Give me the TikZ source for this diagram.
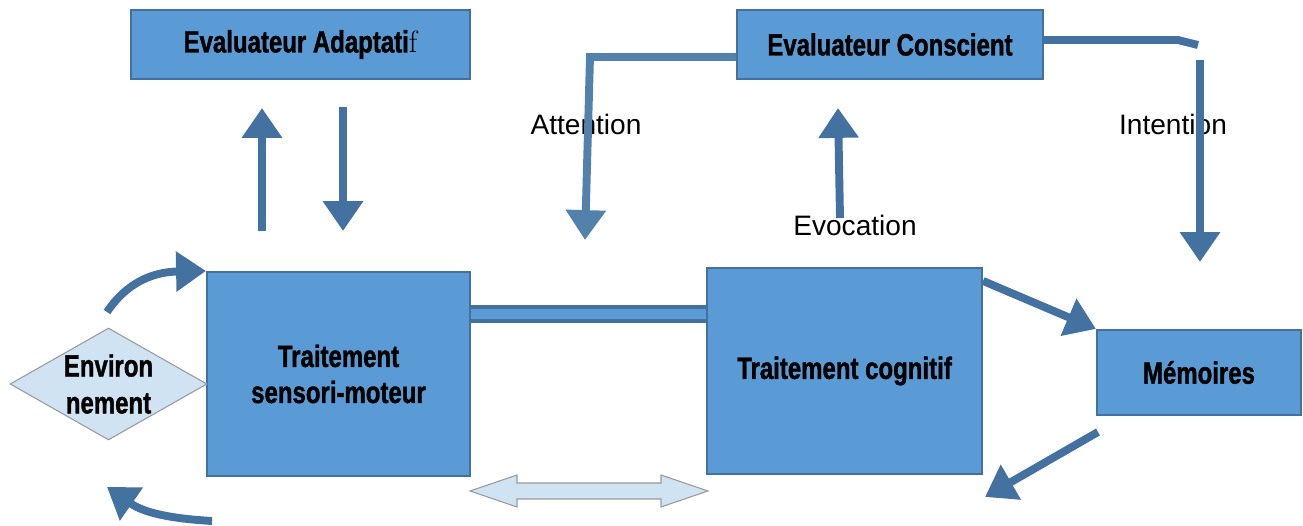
\documentclass[tikz,border=0pt]{standalone}
\usepackage{fontspec}
\setmainfont{Liberation Sans}
\newfontfamily\boxfont[FakeStretch=0.78, FakeBold=1.2]{Liberation Sans}
\newfontfamily\lmfont{Latin Modern Roman}
\usetikzlibrary{shapes.geometric, arrows.meta, positioning, calc}
\definecolor{boxfill}{RGB}{91,155,213}
\definecolor{boxline}{RGB}{65,113,156}
\definecolor{flowblue}{RGB}{68,114,160}
\definecolor{attblue}{RGB}{82,130,172}
\definecolor{envfill}{RGB}{207,227,243}
\tikzset{
x=0.02cm, y=-0.02cm, % one unit = one pixel of the reference
block/.style={draw=boxline, fill=boxfill, line width=1.2pt, align=center,
  inner sep=0pt, font=\boxfont\bfseries\fontsize{17.5}{20.5}\selectfont}, % the blue boxes
flow/.style={draw=flowblue, line width=4.5pt, -{Triangle[width=22pt,length=17pt]}}, % thick arrows
label/.style={font=\fontsize{16}{19}\selectfont},
}
\begin{document}
\begin{tikzpicture}
\useasboundingbox (0,0) rectangle (1303,526);
% boxes
\node[block, minimum width=6.78cm, minimum height=1.38cm] (ea) at (300.5,44.5) {Evaluateur Adaptati{\lmfont\mdseries f}};
\node[block, minimum width=6.12cm, minimum height=1.38cm] (ec) at (890,44.5) {Evaluateur Conscient};
\node[block, minimum width=5.26cm, minimum height=4.08cm] (tsm) at (338.5,374) {Traitement\\sensori-moteur};
\node[block, minimum width=5.5cm, minimum height=4.12cm] (tc) at (844.5,371) {Traitement cognitif};
\node[block, minimum width=4.08cm, minimum height=1.7cm] (mem) at (1199,372.5) {Mémoires};
\node[diamond, shape aspect=1.76, draw=gray!80, fill=envfill, line width=0.6pt, minimum width=3.94cm, minimum height=2.24cm,
  inner sep=0pt, align=center, font=\boxfont\bfseries\fontsize{17.5}{21}\selectfont] (env) at (108.5,384) {Environ\\nement};
% labels
\node[label] (att) at (586,124) {Attention};
\node[label] (int) at (1173,124) {Intention};
\node[label] (evo) at (855,225) {Evocation};
% free ends of the arrows
\coordinate (upA) at (262,231);
\coordinate (upB) at (262,108);
\coordinate (dnA) at (343,107);
\coordinate (dnB) at (343,231);
\coordinate (attK) at (590,57);
\coordinate (attE) at (585,240);
\coordinate (intK) at (1178,40);
\coordinate (intT) at (1198,45);
\coordinate (intS) at (1200,60);
\coordinate (intE) at (1200,262);
\coordinate (evoA) at (840,218);
\coordinate (evoB) at (838,108);
\coordinate (envA) at (107,312);
\coordinate (envB) at (212,521);
\coordinate (envC) at (107,487);
\coordinate (memA) at (1098,432);
\coordinate (memB) at (985,497);
\coordinate (bandY) at (0,314);
% arrows
\draw[flow] (upA) -- (upB);
\draw[flow] (dnA) -- (dnB);
\draw[flow, draw=attblue] (ec.west |- attK) -- (attK) -- (attE);
\draw[draw=flowblue, line width=4.5pt] (ec.east |- intK) -- (intK) -- (intT);
\draw[flow] (intS) -- (intE);
\draw[flow] (evoA) -- (evoB);
\draw[flow] (envA) .. controls (125,285) and (150,272) .. (tsm.north west);
\draw[flow] (envB) .. controls (160,518) and (140,510) .. (envC);
\draw[flow] ($(tc.north east)+(0,14)$) -- (mem.north west);
\draw[flow] (memA) -- (memB);
% link between the two treatments
\draw[draw=boxline, line width=10pt] (tsm.east |- bandY) -- (tc.west |- bandY);
\draw[draw=boxfill, line width=6pt] (tsm.east |- bandY) -- (tc.west |- bandY);
% double arrow
\filldraw[fill=envfill, draw=gray!80, line width=0.6pt] (470,491) -- (517,475) -- (517,483) -- (661,483) -- (661,475)
  -- (708,491) -- (661,507) -- (661,499) -- (517,499) -- (517,507) -- cycle;
\end{tikzpicture}
\end{document}
